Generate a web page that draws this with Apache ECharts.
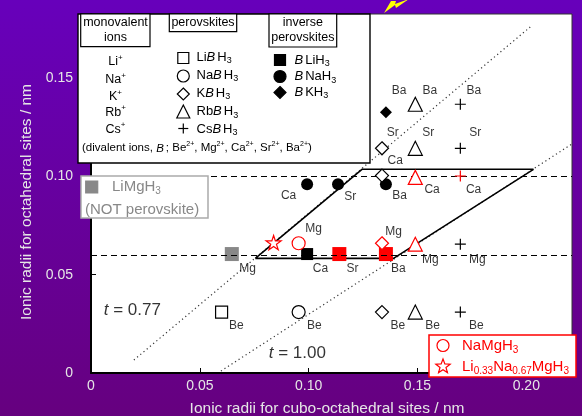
<!DOCTYPE html>
<html>
<head>
<meta charset="utf-8">
<script src="https://cdn.jsdelivr.net/npm/echarts@6/dist/echarts.min.js"></script>
<style>
html, body { margin: 0; padding: 0; }
#main { width: 582px; height: 416px; }
</style>
</head>
<body>
<div id="main"></div>
<script>
var FONT = "'Liberation Sans', Arial, sans-serif";

// axes (nm)
var xRange = [0, 0.221];
var yRange = [0, 0.1826];
var tickStep = 0.05;

// boundary lines
var boundaryY = [0.0583, 0.1036];
var tLine077 = [[0.0197, 0.0066], [0.2018, 0.176]];
var tLine100 = [[0.0597, 0.001], [0.221, 0.1165]];
var stableZone = [[0.0755, 0.0583], [0.139, 0.0583], [0.2033, 0.1036], [0.1245, 0.1036], [0.0755, 0.0583]];

// perovskites A B H3 : x = monovalent A, y = divalent B
var liBH3 = [[0.060, 0.031]];
var naBH3 = [[0.0954, 0.031]];
var naMgH3 = [[0.0954, 0.066]];
var kBH3 = [[0.1337, 0.031], [0.1337, 0.1004], [0.1337, 0.1143]];
var kBH3Known = [[0.1337, 0.066]];
var rbBH3 = [[0.149, 0.031], [0.149, 0.1143], [0.149, 0.1367]];
var rbBH3Known = [[0.149, 0.0655], [0.149, 0.0995]];
var csBH3 = [[0.1697, 0.031], [0.1697, 0.0655], [0.1697, 0.1143], [0.1697, 0.1367]];
var csBH3Known = [[0.1697, 0.1002]];

// inverse perovskites B A H3
var bLiH3 = [[0.0993, 0.0605]];
var bLiH3Known = [[0.1141, 0.0605], [0.1355, 0.0605]];
var bNaH3 = [[0.0993, 0.096], [0.1135, 0.096], [0.1355, 0.096]];
var bKH3 = [[0.1355, 0.1326]];
var liMgH3 = [[0.0647, 0.0605]];
var liNaMgH3 = [[0.0839, 0.0663]];

// element names next to the marks
var elementLabels = [
    [0.1415, 0.1434, 'Ba'], [0.1557, 0.1434, 'Ba'], [0.1759, 0.1434, 'Ba'],
    [0.1386, 0.1222, 'Sr'], [0.155, 0.1222, 'Sr'], [0.1765, 0.1222, 'Sr'],
    [0.1398, 0.108, 'Ca'], [0.1567, 0.0934, 'Ca'], [0.1758, 0.0934, 'Ca'],
    [0.1418, 0.0902, 'Ba'], [0.0908, 0.0902, 'Ca'], [0.1191, 0.0897, 'Sr'],
    [0.1023, 0.0736, 'Mg'], [0.139, 0.0719, 'Mg'],
    [0.0719, 0.0529, 'Mg'], [0.1054, 0.0529, 'Ca'], [0.1201, 0.0529, 'Sr'], [0.1412, 0.0529, 'Ba'],
    [0.1559, 0.0575, 'Mg'], [0.1775, 0.0575, 'Mg'],
    [0.0668, 0.0241, 'Be'], [0.1026, 0.0241, 'Be'], [0.141, 0.0241, 'Be'], [0.1569, 0.0241, 'Be'], [0.177, 0.0241, 'Be']
];
var tLabels = [[0.019, 0.032, '0.77'], [0.0948, 0.0102, '1.00']];

var PLUS = 'path://M0,5H10M5,0V10';
var STAR = 'path://M50,2L61.2,36.6L97.6,36.6L68.2,58L79.4,92.6L50,71.2L20.6,92.6L31.8,58L2.4,36.6L38.8,36.6Z';

function rich(size) {
    var s = Math.round(size * 0.68), p = Math.round(size * 0.62);
    return {
        i: { fontFamily: FONT, fontSize: size, fontStyle: 'italic', padding: [0, 2, 0, 0] },
        s: { fontFamily: FONT, fontSize: s, lineHeight: s + 1, verticalAlign: 'bottom' },
        p: { fontFamily: FONT, fontSize: p, lineHeight: p + 1, verticalAlign: 'top' }
    };
}

function txt(x, y, text, size, color, align, lh) {
    return {
        type: 'text', x: x, y: y, z: 102,
        style: {
            text: text, fill: color || '#000', fontFamily: FONT, fontSize: size,
            lineHeight: lh || size + 4, rich: rich(size),
            align: align || 'left', textAlign: align || 'left',
            verticalAlign: 'middle', textVerticalAlign: 'middle'
        }
    };
}

function mark(kind, cx, cy, s, fill, stroke) {
    var h = s / 2;
    var st = { fill: fill, stroke: stroke, lineWidth: 1.2 };
    if (kind === 'square') return { type: 'rect', z: 101, shape: { x: cx - h, y: cy - h, width: s, height: s }, style: st };
    if (kind === 'circle') return { type: 'circle', z: 101, shape: { cx: cx, cy: cy, r: h }, style: st };
    if (kind === 'diamond') return { type: 'polygon', z: 101, shape: { points: [[cx, cy - h], [cx + h, cy], [cx, cy + h], [cx - h, cy]] }, style: st };
    if (kind === 'triangle') return { type: 'polygon', z: 101, shape: { points: [[cx, cy - h], [cx + h, cy + h], [cx - h, cy + h]] }, style: st };
    if (kind === 'star') {
        var pts = [];
        for (var k = 0; k < 10; k++) {
            var a = (-90 + 36 * k) * Math.PI / 180, r = k % 2 ? h * 0.42 : h;
            pts.push([cx + r * Math.cos(a), cy + r * Math.sin(a)]);
        }
        return { type: 'polygon', z: 101, shape: { points: pts }, style: st };
    }
    return {
        type: 'group', z: 101, children: [
            { type: 'line', z: 101, shape: { x1: cx - h, y1: cy, x2: cx + h, y2: cy }, style: { stroke: stroke, lineWidth: 1.2 } },
            { type: 'line', z: 101, shape: { x1: cx, y1: cy - h, x2: cx, y2: cy + h }, style: { stroke: stroke, lineWidth: 1.2 } }
        ]
    };
}

function box(x, y, w, h, stroke, lw) {
    return { type: 'rect', z: 100, shape: { x: x, y: y, width: w, height: h }, style: { fill: '#fff', stroke: stroke, lineWidth: lw || 1.2 } };
}

var legendItems = [
    box(78, 14, 292, 149, '#000', 1.4),
    box(80.7, 14, 69.3, 32.7, '#000'),
    box(169.3, 14, 67.4, 17.7, '#000'),
    box(269, 14, 67.7, 33, '#000'),
    txt(115.5, 30.3, 'monovalent\nions', 12.5, '#000', 'center', 15),
    txt(203, 22.8, 'perovskites', 12.5, '#000', 'center'),
    txt(302.8, 30.3, 'inverse\nperovskites', 12.5, '#000', 'center', 15),
    txt(115.5, 61.7, 'Li{p|+}', 12.5, '#000', 'center'),
    txt(115.5, 80, 'Na{p|+}', 12.5, '#000', 'center'),
    txt(115.5, 96.7, 'K{p|+}', 12.5, '#000', 'center'),
    txt(115.5, 112.3, 'Rb{p|+}', 12.5, '#000', 'center'),
    txt(115.5, 129.3, 'Cs{p|+}', 12.5, '#000', 'center'),
    mark('square', 183.3, 58, 11, '#fff', '#000'),
    mark('circle', 183.3, 76, 12, '#fff', '#000'),
    mark('diamond', 183.3, 94, 12, '#fff', '#000'),
    mark('triangle', 183.3, 111.5, 13, '#fff', '#000'),
    mark('plus', 183.3, 128.5, 10, '#fff', '#000'),
    txt(196.5, 57, 'Li{i|B}H{s|3}', 13),
    txt(196.5, 75, 'Na{i|B}H{s|3}', 13),
    txt(196.5, 93, 'K{i|B}H{s|3}', 13),
    txt(196.5, 111.5, 'Rb{i|B}H{s|3}', 13),
    txt(196.5, 129, 'Cs{i|B}H{s|3}', 13),
    mark('square', 280, 60, 11, '#000', '#000'),
    mark('circle', 280, 76.5, 12, '#000', '#000'),
    mark('diamond', 280, 92.5, 12, '#000', '#000'),
    txt(294.5, 60, '{i|B}LiH{s|3}', 13),
    txt(294.5, 76.5, '{i|B}NaH{s|3}', 13),
    txt(294.5, 92, '{i|B}KH{s|3}', 13),
    txt(82, 148.3, '(divalent ions, {i|B}; Be{p|2+}, Mg{p|2+}, Ca{p|2+}, Sr{p|2+}, Ba{p|2+})', 11.5),

    box(81, 176, 127, 42, '#aaa', 1.5),
    mark('square', 91.7, 187, 12, '#888', '#888'),
    txt(112, 187, 'LiMgH{s|3}', 15, '#888'),
    txt(85, 209.5, '(NOT perovskite)', 15, '#888'),

    box(429, 335, 147, 42, '#f00', 1.5),
    mark('circle', 443, 345.5, 12, '#fff', '#f00'),
    mark('star', 443, 366.5, 15, '#fff', '#f00'),
    txt(462, 345.5, 'NaMgH{s|3}', 15, '#f00'),
    txt(462, 366.5, 'Li{s|0.33}Na{s|0.67}MgH{s|3}', 15, '#f00'),

    { type: 'polygon', z: 102, shape: { points: [[384, 13], [391, 1], [396, 1], [395, 4], [409, -1], [396, 8], [395, 5]] }, style: { fill: '#ffff00' } }
];

function openSet(data, symbol, size, color) {
    return {
        type: 'scatter', data: data, symbol: symbol, symbolSize: size, symbolKeepAspect: true,
        itemStyle: { color: '#fff', borderColor: color, borderWidth: 1.2, opacity: 1 }, z: 5
    };
}
function solidSet(data, symbol, size, color) {
    return {
        type: 'scatter', data: data, symbol: symbol, symbolSize: size,
        itemStyle: { color: color, borderWidth: 0, opacity: 1 }, z: 4
    };
}

var chart = echarts.init(document.getElementById('main'));
window.onresize = function () { chart.resize(); };

chart.setOption({
    animation: false,
    backgroundColor: new echarts.graphic.LinearGradient(0, 0, 0, 1, [
        { offset: 0, color: '#6700bb' },
        { offset: 1, color: '#66007f' }
    ]),
    textStyle: { fontFamily: FONT },
    grid: {
        left: 91, right: 10, top: 14, bottom: 43, show: true,
        backgroundColor: '#fff', borderColor: '#333', borderWidth: 1,
        outerBoundsMode: 'none'
    },
    xAxis: {
        type: 'value', min: xRange[0], max: xRange[1], interval: tickStep,
        name: 'Ionic radii for cubo-octahedral sites / nm',
        nameLocation: 'middle', nameGap: 28,
        nameTextStyle: { color: '#e6e6e6', fontSize: 15.5, fontFamily: FONT, padding: [0, 9, 0, 0] },
        axisLine: { lineStyle: { color: '#000', width: 2 } },
        axisTick: { inside: true, length: 5, lineStyle: { color: '#000' } },
        axisLabel: {
            color: '#e6e6e6', fontSize: 14, margin: 6, showMaxLabel: false,
            formatter: function (v) { return v === 0 ? '0' : v.toFixed(2); }
        },
        splitLine: { show: false }
    },
    yAxis: {
        type: 'value', min: yRange[0], max: yRange[1], interval: tickStep,
        name: 'Ionic radii for octahedral sites / nm',
        nameLocation: 'middle', nameGap: 56,
        nameTextStyle: { color: '#e6e6e6', fontSize: 15.5, fontFamily: FONT, padding: [0, 17, 0, 0] },
        axisLine: { lineStyle: { color: '#000', width: 2 } },
        axisTick: { inside: true, length: 5, lineStyle: { color: '#000' } },
        axisLabel: {
            color: '#e6e6e6', fontSize: 14, margin: 18, showMaxLabel: false,
            formatter: function (v) { return v === 0 ? '0' : v.toFixed(2); }
        },
        splitLine: { show: false }
    },
    graphic: { elements: legendItems },
    series: [
        {
            type: 'line', data: tLine077, showSymbol: false, silent: true, z: 1,
            lineStyle: { color: '#333', width: 1.2, type: [1.2, 3] },
            markLine: {
                silent: true, symbol: 'none', label: { show: false },
                lineStyle: { color: '#000', width: 1.2, type: [6, 4] },
                data: boundaryY.map(function (y) { return { yAxis: y }; })
            }
        },
        {
            type: 'line', data: tLine100, showSymbol: false, silent: true, z: 1,
            lineStyle: { color: '#333', width: 1.2, type: [1.2, 3] }
        },
        {
            type: 'line', data: stableZone, showSymbol: false, silent: true, z: 2,
            lineStyle: { color: '#000', width: 1.6 }
        },
        solidSet(bNaH3, 'circle', 12, '#000'),
        solidSet(bKH3, 'diamond', 12, '#000'),
        solidSet(bLiH3, 'rect', 12, '#000'),
        solidSet(bLiH3Known, 'rect', 14, '#f00'),
        solidSet(liMgH3, 'rect', 14, '#888'),
        openSet(liBH3, 'rect', 12, '#000'),
        openSet(naBH3, 'circle', 13, '#000'),
        openSet(naMgH3, 'circle', 13, '#f00'),
        openSet(kBH3, 'diamond', 13, '#000'),
        openSet(kBH3Known, 'diamond', 13, '#f00'),
        openSet(rbBH3, 'triangle', 14, '#000'),
        openSet(rbBH3Known, 'triangle', 14, '#f00'),
        {
            type: 'scatter', data: csBH3, symbol: PLUS, symbolSize: 11, z: 5,
            itemStyle: { color: 'rgba(0,0,0,0)', borderColor: '#000', borderWidth: 1.2, opacity: 1 }
        },
        {
            type: 'scatter', data: csBH3Known, symbol: PLUS, symbolSize: 11, z: 5,
            itemStyle: { color: 'rgba(0,0,0,0)', borderColor: '#f00', borderWidth: 1.2, opacity: 1 }
        },
        openSet(liNaMgH3, STAR, 15, '#f00'),
        {
            type: 'scatter', z: 6, silent: true, symbolSize: 1,
            itemStyle: { color: 'rgba(0,0,0,0)' },
            data: elementLabels.map(function (d) { return { value: [d[0], d[1]], name: d[2] }; }),
            label: { show: true, position: 'inside', formatter: '{b}', color: '#000', fontSize: 12, fontFamily: FONT }
        },
        {
            type: 'scatter', z: 6, silent: true, symbolSize: 1,
            itemStyle: { color: 'rgba(0,0,0,0)' },
            data: tLabels.map(function (d) { return { value: [d[0], d[1]], name: d[2] }; }),
            label: {
                show: true, position: 'inside', color: '#000', fontSize: 17, fontFamily: FONT,
                formatter: function (p) { return '{i|t} = ' + p.name; },
                rich: { i: { fontStyle: 'italic', fontSize: 17, fontFamily: FONT, color: '#000' } }
            }
        }
    ]
});
</script>
</body>
</html>
